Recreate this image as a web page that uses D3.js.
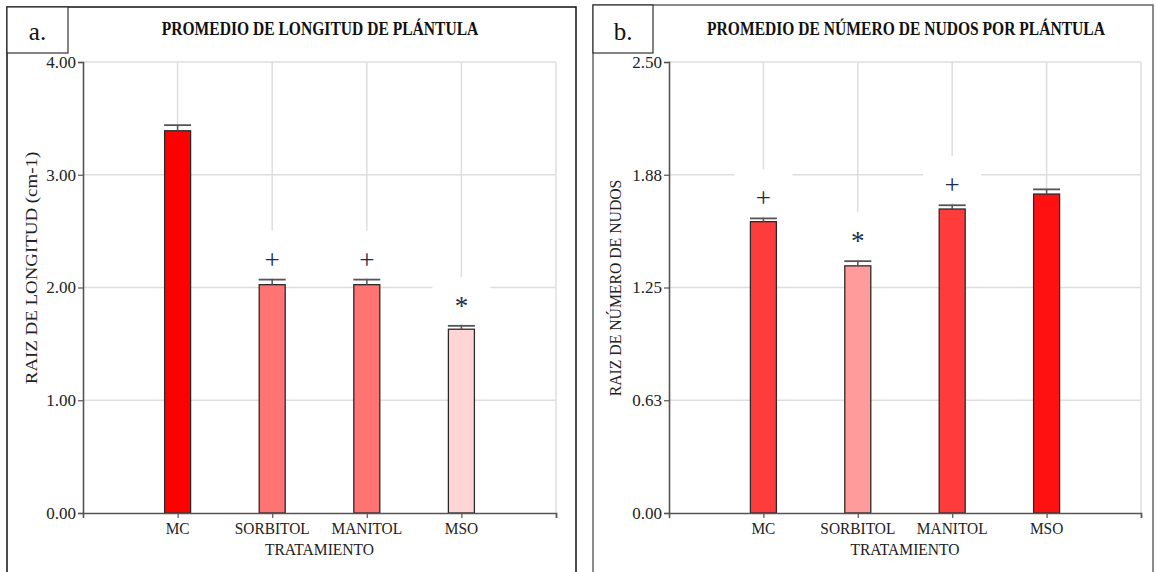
<!DOCTYPE html>
<html>
<head>
<meta charset="utf-8">
<script src="https://cdn.jsdelivr.net/npm/d3@7"></script>
<style>
  html, body { margin: 0; padding: 0; background: #fff; }
  svg { display: block; }
  text { font-family: "Liberation Serif", "DejaVu Serif", serif; }
</style>
</head>
<body>
<svg id="chart" width="1156" height="572"></svg>
<script>
// ---------- data ----------
const categories = ["MC", "SORBITOL", "MANITOL", "MSO"];

const longitudTitle = "PROMEDIO DE LONGITUD DE PLÁNTULA";
const longitudYLabel = "RAIZ DE LONGITUD (cm-1)";
const longitudValues = [3.39, 2.025, 2.025, 1.63];
const longitudErrors = [0.05, 0.045, 0.045, 0.03];
const longitudMarks = ["", "+", "+", "*"];
const longitudTicks = [0, 1, 2, 3, 4];
const longitudTickLabels = ["0.00", "1.00", "2.00", "3.00", "4.00"];

const nudosTitle = "PROMEDIO DE NÚMERO DE NUDOS POR PLÁNTULA";
const nudosYLabel = "RAIZ DE NÚMERO DE NUDOS";
const nudosValues = [1.615, 1.37, 1.685, 1.768];
const nudosErrors = [0.018, 0.026, 0.021, 0.026];
const nudosMarks = ["+", "*", "+", ""];
const nudosTicks = [0, 0.625, 1.25, 1.875, 2.5];
const nudosTickLabels = ["0.00", "0.63", "1.25", "1.88", "2.50"];

const xAxisLabel = "TRATAMIENTO";
const panelLetters = ["a.", "b."];

// ---------- styles ----------
const longitudColors = ["#ff0000", "#ff7373", "#ff7373", "#ffd5d5"];
const nudosColors = ["#ff3c3c", "#ff9b9b", "#ff3c3c", "#ff1111"];

const svg = d3.select("#chart");

function drawPanel(opt) {
  const g = svg.append("g");
  // panel frame
  g.append("rect").attr("x", opt.frame[0]).attr("y", opt.frame[1])
    .attr("width", opt.frame[2] - opt.frame[0]).attr("height", 640)
    .attr("fill", "none").attr("stroke", opt.frameColor).attr("stroke-width", 1.5);
  // letter box
  g.append("rect").attr("x", opt.frame[0]).attr("y", opt.frame[1])
    .attr("width", opt.letterBoxW).attr("height", 53 - opt.frame[1])
    .attr("fill", "#fff").attr("stroke", "#333").attr("stroke-width", 1.2);
  g.append("text").attr("x", opt.frame[0] + opt.letterBoxW / 2).attr("y", 40)
    .attr("text-anchor", "middle").attr("font-size", 25).attr("fill", "#111")
    .text(opt.letter);

  const x = d3.scaleLinear().domain([0, categories.length + 1]).range([opt.left, opt.right]);
  const y = d3.scaleLinear().domain([0, opt.ticks[opt.ticks.length - 1]]).range([513, 62]);

  // title (horizontally condensed)
  g.append("g").attr("transform", `translate(${opt.titleX},35) scale(0.82,1)`)
    .append("text").attr("text-anchor", "middle")
    .attr("font-size", 19).attr("font-weight", "bold").attr("fill", "#111")
    .text(opt.title);

  // gridlines
  const grid = g.append("g").attr("stroke", "#dedede").attr("stroke-width", 1.5);
  opt.ticks.slice(1).forEach(t => {
    grid.append("line").attr("x1", opt.left).attr("x2", opt.right)
      .attr("y1", y(t)).attr("y2", y(t));
  });
  d3.range(1, categories.length + 2).forEach(i => {
    grid.append("line").attr("x1", x(i)).attr("x2", x(i)).attr("y1", y.range()[1]).attr("y2", 513);
  });

  // marker backgrounds (white boxes)
  const capY = (i) => y(opt.values[i] + opt.errors[i]);
  categories.forEach((c, i) => {
    if (!opt.marks[i]) return;
    g.append("rect").attr("x", x(i + 1) - 29).attr("y", capY(i) - 49)
      .attr("width", 58).attr("height", 47).attr("fill", "#fff");
  });

  // bars
  const barW = 26;
  g.selectAll("rect.bar").data(opt.values).join("rect").attr("class", "bar")
    .attr("x", (d, i) => x(i + 1) - barW / 2)
    .attr("y", d => y(d))
    .attr("width", barW)
    .attr("height", d => y(0) - y(d))
    .attr("fill", (d, i) => opt.colors[i])
    .attr("stroke", "#2a2a2a").attr("stroke-width", 1.3);

  // error bars
  categories.forEach((c, i) => {
    const cx = x(i + 1);
    g.append("line").attr("x1", cx).attr("x2", cx)
      .attr("y1", y(opt.values[i])).attr("y2", capY(i))
      .attr("stroke", "#555").attr("stroke-width", 1.5);
    g.append("line").attr("x1", cx - 13.5).attr("x2", cx + 13.5)
      .attr("y1", capY(i)).attr("y2", capY(i))
      .attr("stroke", "#555").attr("stroke-width", 1.8);
  });

  // significance marks
  categories.forEach((c, i) => {
    if (!opt.marks[i]) return;
    g.append("text").attr("x", x(i + 1)).attr("y", capY(i) - 11)
      .attr("text-anchor", "middle").attr("font-size", 27).attr("fill", "#1d2b49")
      .text(opt.marks[i]);
  });

  // y axis
  const yAxis = d3.axisLeft(y).tickValues(opt.ticks).tickSize(5).tickPadding(2)
    .tickFormat((d, i) => opt.tickLabels[i]);
  const ya = g.append("g").attr("transform", `translate(${opt.left},0)`).call(yAxis);
  ya.select(".domain").attr("stroke", "#555").attr("stroke-width", 1.6);
  ya.selectAll(".tick line").attr("stroke", "#555").attr("stroke-width", 1.2);
  ya.selectAll(".tick text").attr("font-size", 17).attr("fill", "#222")
    .attr("font-family", "Liberation Serif, serif");

  // x axis
  const xAxis = d3.axisBottom(x).tickValues(d3.range(1, categories.length + 2))
    .tickSize(5).tickFormat(() => "");
  const xa = g.append("g").attr("transform", `translate(0,513)`).call(xAxis);
  xa.select(".domain").attr("stroke", "#555").attr("stroke-width", 1.6);
  xa.selectAll(".tick line").attr("stroke", "#555").attr("stroke-width", 1.2);

  // category labels
  categories.forEach((c, i) => {
    g.append("g").attr("transform", `translate(${x(i + 1)},534) scale(0.88,1)`)
      .append("text").attr("text-anchor", "middle").attr("font-size", 17.5)
      .attr("fill", "#222").text(c);
  });

  // axis titles
  g.append("g").attr("transform", `translate(${(opt.left + opt.right) / 2},555) scale(0.89,1)`)
    .append("text").attr("text-anchor", "middle").attr("font-size", 17.5).attr("fill", "#222")
    .text(xAxisLabel);
  g.append("g")
    .attr("transform", `translate(${opt.yTitleX},${opt.yTitleY}) rotate(-90) scale(${opt.yTitleScale},1)`)
    .append("text").attr("text-anchor", "middle").attr("font-size", 17.5).attr("fill", "#222")
    .text(opt.yLabel);
}

drawPanel({
  frame: [7, 7, 576], frameColor: "#111", letterBoxW: 61, letter: panelLetters[0],
  left: 83, right: 556, title: longitudTitle, titleX: 320,
  ticks: longitudTicks, tickLabels: longitudTickLabels,
  values: longitudValues, errors: longitudErrors, marks: longitudMarks, colors: longitudColors,
  yLabel: longitudYLabel, yTitleX: 37, yTitleY: 268, yTitleScale: 1.08
});

drawPanel({
  frame: [593, 5, 1153], frameColor: "#666", letterBoxW: 60, letter: panelLetters[1],
  left: 669, right: 1141, title: nudosTitle, titleX: 906,
  ticks: nudosTicks, tickLabels: nudosTickLabels,
  values: nudosValues, errors: nudosErrors, marks: nudosMarks, colors: nudosColors,
  yLabel: nudosYLabel, yTitleX: 621, yTitleY: 288, yTitleScale: 0.9
});
</script>
</body>
</html>
